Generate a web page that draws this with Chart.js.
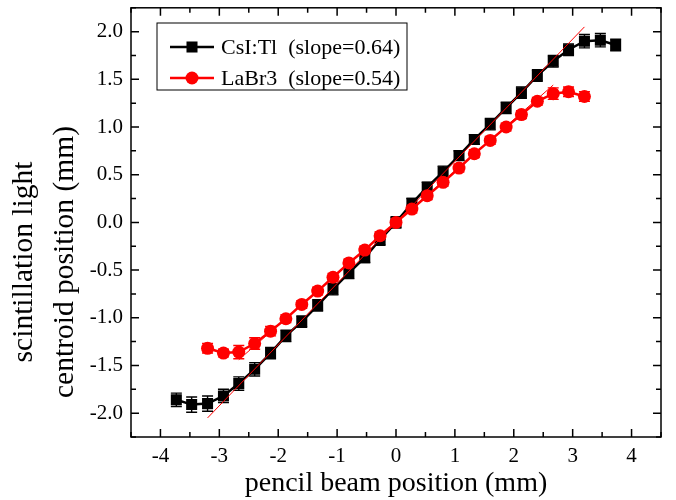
<!DOCTYPE html>
<html>
<head>
<meta charset="utf-8">
<script src="https://cdn.jsdelivr.net/npm/chart.js@4.4.1/dist/chart.umd.min.js"></script>
<style>
  body { margin: 0; background: #fff; }
  #wrap { width: 676px; height: 500px; }
</style>
</head>
<body>
<div id="wrap"><canvas id="grafico"></canvas></div>
<script>
const xCsI = [-3.73, -3.47, -3.2, -2.93, -2.67, -2.4, -2.13, -1.87, -1.6, -1.33, -1.07, -0.8, -0.53, -0.27, 0, 0.27, 0.53, 0.8, 1.07, 1.33, 1.6, 1.87, 2.13, 2.4, 2.67, 2.93, 3.2, 3.47, 3.73];
const yCsI = [-1.86, -1.91, -1.9, -1.82, -1.69, -1.54, -1.37, -1.19, -1.04, -0.87, -0.7, -0.53, -0.37, -0.18, 0.0, 0.2, 0.37, 0.53, 0.7, 0.87, 1.03, 1.2, 1.36, 1.54, 1.69, 1.81, 1.9, 1.91, 1.86];
const errCsI = [0.07, 0.08, 0.08, 0.07, 0.07, 0.07, 0.06, 0.06, 0.06, 0.06, 0.06, 0.06, 0.05, 0.06, 0.06, 0.05, 0.05, 0.06, 0.05, 0.05, 0.06, 0.06, 0.06, 0.06, 0.06, 0.06, 0.07, 0.07, 0.06];

const xLaBr = [-3.2, -2.93, -2.67, -2.4, -2.13, -1.87, -1.6, -1.33, -1.07, -0.8, -0.53, -0.27, 0, 0.27, 0.53, 0.8, 1.07, 1.33, 1.6, 1.87, 2.13, 2.4, 2.67, 2.93, 3.2];
const yLaBr = [-1.32, -1.37, -1.36, -1.27, -1.14, -1.01, -0.86, -0.72, -0.575, -0.425, -0.29, -0.14, 0.0, 0.14, 0.28, 0.42, 0.57, 0.72, 0.86, 1.0, 1.13, 1.27, 1.35, 1.37, 1.32];
const errLaBr = [0.05, 0.04, 0.07, 0.06, 0.05, 0.04, 0.04, 0.04, 0.04, 0.04, 0.04, 0.04, 0.05, 0.04, 0.04, 0.04, 0.04, 0.04, 0.04, 0.04, 0.04, 0.04, 0.06, 0.05, 0.05];

// fitted lines (end points)
const fitCsIX = [-3.2, 3.2];
const fitCsIY = [-2.05, 2.05];
const fitLaBrX = [-2.67, 2.67];
const fitLaBrY = [-1.44, 1.44];

const legendLabels = ["CsI:Tl  (slope=0.64)", "LaBr3  (slope=0.54)"];
const yTitle = ["scintillation light", "centroid position (mm)"];
const xTicks = [-4, -3, -2, -1, 0, 1, 2, 3, 4];
const yTicks = [-2, -1.5, -1, -0.5, 0, 0.5, 1, 1.5, 2];

const serif = "'Liberation Serif', 'DejaVu Serif', serif";

const punti = function (xs, ys) {
  return xs.map((x, i) => ({ x: x, y: ys[i] }));
};

const errorBars = {
  id: "errorBars",
  beforeDatasetsDraw(chart) {
    const ctx = chart.ctx;
    const yScale = chart.scales.y;
    chart.data.datasets.forEach((ds, di) => {
      if (!ds.errors) return;
      const meta = chart.getDatasetMeta(di);
      ctx.save();
      ctx.strokeStyle = ds.borderColor;
      ctx.lineWidth = 1.4;
      meta.data.forEach((pt, i) => {
        const v = ds.data[i].y;
        const top = yScale.getPixelForValue(v + ds.errors[i]);
        const bot = yScale.getPixelForValue(v - ds.errors[i]);
        ctx.beginPath();
        ctx.moveTo(pt.x, top);
        ctx.lineTo(pt.x, bot);
        ctx.moveTo(pt.x - 5.5, top);
        ctx.lineTo(pt.x + 5.5, top);
        ctx.moveTo(pt.x - 5.5, bot);
        ctx.lineTo(pt.x + 5.5, bot);
        ctx.stroke();
      });
      ctx.restore();
    });
  },
};

const frame = {
  id: "frame",
  afterDraw(chart) {
    const ctx = chart.ctx;
    const a = chart.chartArea;
    const xs = chart.scales.x;
    const ys = chart.scales.y;
    ctx.save();
    ctx.strokeStyle = "#000";
    ctx.lineWidth = 1.5;
    ctx.strokeRect(a.left, a.top, a.right - a.left, a.bottom - a.top);
    ctx.beginPath();
    for (let v = -4.5; v <= 4.5; v += 0.5) {
      const len = Number.isInteger(v) ? 8 : 5;
      const px = xs.getPixelForValue(v);
      ctx.moveTo(px, a.bottom);
      ctx.lineTo(px, a.bottom - len);
      ctx.moveTo(px, a.top);
      ctx.lineTo(px, a.top + len);
    }
    for (let v = -2.25; v <= 2.25; v += 0.25) {
      const len = Math.abs(v * 2 - Math.round(v * 2)) < 1e-6 ? 8 : 5;
      const py = ys.getPixelForValue(v);
      ctx.moveTo(a.left, py);
      ctx.lineTo(a.left + len, py);
      ctx.moveTo(a.right, py);
      ctx.lineTo(a.right - len, py);
    }
    ctx.stroke();

    // y title, two lines
    ctx.fillStyle = "#000";
    ctx.font = "29.5px " + serif;
    ctx.textAlign = "center";
    ctx.textBaseline = "middle";
    yTitle.forEach((t, i) => {
      ctx.save();
      ctx.translate(24 + i * 41, 262);
      ctx.rotate(-Math.PI / 2);
      ctx.fillText(t, 0, 0);
      ctx.restore();
    });

    // legend box
    const lx = 157, ly = 23, lw = 250, lh = 67;
    ctx.lineWidth = 1;
    ctx.strokeRect(lx, ly, lw, lh);
    const serie = [chart.data.datasets[0], chart.data.datasets[1]];
    serie.forEach((ds, i) => {
      const cy = ly + 24 + i * 31;
      ctx.strokeStyle = ds.borderColor;
      ctx.fillStyle = ds.borderColor;
      ctx.lineWidth = 2.5;
      ctx.beginPath();
      ctx.moveTo(170, cy);
      ctx.lineTo(214, cy);
      ctx.stroke();
      Chart.helpers.drawPoint(ctx, { pointStyle: ds.pointStyle, radius: ds.pointRadius, borderWidth: 0 }, 192, cy);
      ctx.fillStyle = "#000";
      ctx.font = "22px " + serif;
      ctx.textAlign = "left";
      ctx.textBaseline = "middle";
      ctx.fillText(legendLabels[i], 221, cy + 1);
    });
    ctx.restore();
  },
};

const config = {
  type: "scatter",
  data: {
    datasets: [
      {
        label: legendLabels[0],
        data: punti(xCsI, yCsI),
        errors: errCsI,
        showLine: true,
        borderColor: "#000000",
        backgroundColor: "#000000",
        borderWidth: 2.5,
        pointStyle: "rect",
        pointRadius: 7.8,
        pointBorderWidth: 0,
        order: 2,
      },
      {
        label: legendLabels[1],
        data: punti(xLaBr, yLaBr),
        errors: errLaBr,
        showLine: true,
        borderColor: "#ff0000",
        backgroundColor: "#ff0000",
        borderWidth: 2.5,
        pointStyle: "circle",
        pointRadius: 6.5,
        pointBorderWidth: 0,
        order: 1,
      },
      {
        label: "fit CsI",
        data: punti(fitCsIX, fitCsIY),
        showLine: true,
        borderColor: "#ff0000",
        borderWidth: 1,
        pointRadius: 0,
        order: 0,
      },
      {
        label: "fit LaBr3",
        data: punti(fitLaBrX, fitLaBrY),
        showLine: true,
        borderColor: "#ff0000",
        borderWidth: 1,
        pointRadius: 0,
        order: 0,
      },
    ],
  },
  options: {
    responsive: true,
    maintainAspectRatio: false,
    animation: false,
    layout: { padding: { top: 6, right: 15, left: 0, bottom: 0 } },
    plugins: {
      legend: { display: false },
      tooltip: { enabled: false },
    },
    scales: {
      x: {
        type: "linear",
        min: -4.5,
        max: 4.5,
        afterBuildTicks: (s) => { s.ticks = xTicks.map((v) => ({ value: v })); },
        afterFit: (s) => { s.height = 63; s.paddingLeft = 0; s.paddingRight = 0; },
        grid: { display: false, drawTicks: false },
        border: { display: false },
        ticks: { color: "#000", padding: 7, font: { family: serif, size: 21 } },
        title: {
          display: true,
          text: "pencil beam position (mm)",
          color: "#000",
          padding: 0,
          font: { family: serif, size: 28 },
        },
      },
      y: {
        type: "linear",
        min: -2.25,
        max: 2.25,
        afterBuildTicks: (s) => { s.ticks = yTicks.map((v) => ({ value: v })); },
        afterFit: (s) => { s.width = 131; s.paddingTop = 0; s.paddingBottom = 0; },
        grid: { display: false, drawTicks: false },
        border: { display: false },
        ticks: {
          color: "#000",
          padding: 8,
          font: { family: serif, size: 21 },
          callback: (v) => v.toFixed(1),
        },
      },
    },
  },
  plugins: [errorBars, frame],
};

const grafico = new Chart(document.getElementById("grafico"), config);
</script>
</body>
</html>
